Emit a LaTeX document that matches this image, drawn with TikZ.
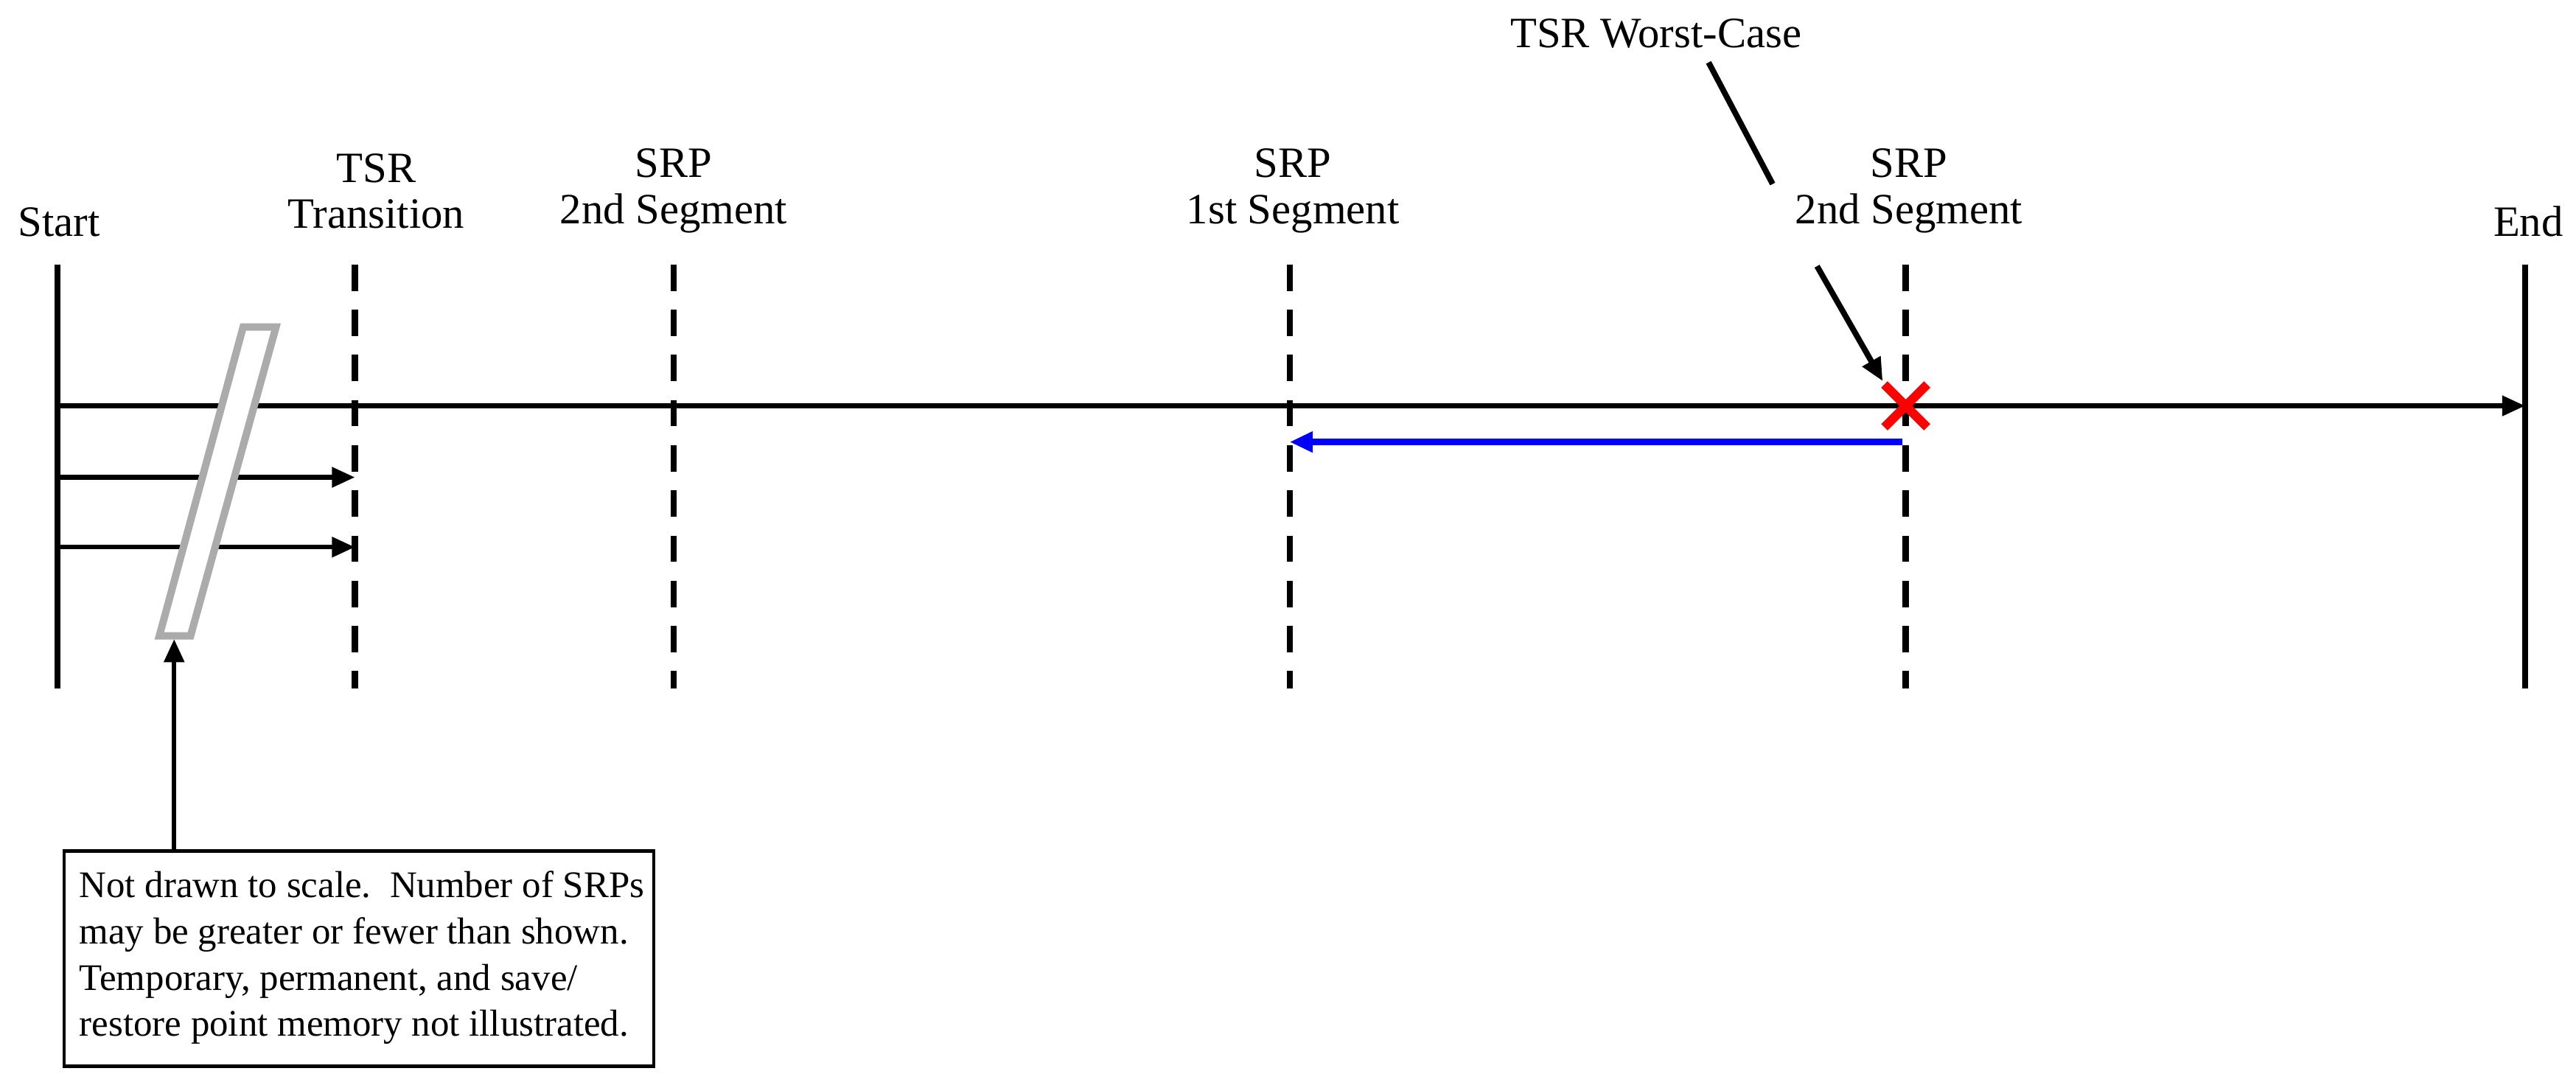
\documentclass[tikz,border=0pt]{standalone}
\usepackage{fontspec}
\setmainfont{Liberation Serif}
\usetikzlibrary{arrows.meta,calc}
\begin{document}
\begin{tikzpicture}[x=0.02cm,y=-0.02cm,
  lbl/.style={font=\fontsize{15}{16}\selectfont,align=center,inner sep=0pt},
  bar/.style={line width=0.075cm},
  dashbar/.style={line width=0.075cm,dash pattern=on 0.32cm off 0.23cm},
  ln/.style={line width=0.055cm},
  arr/.style={ln,-{Triangle[length=0.28cm,width=0.24cm]}}]
\useasboundingbox (0,0) rectangle (1568,662);
% bars
\coordinate (s1) at (35,161); \coordinate (s2) at (35,419);
\coordinate (e1) at (1537,161); \coordinate (e2) at (1537,419);
\draw[bar] (s1) -- (s2);
\draw[bar] (e1) -- (e2);
\foreach \n/\x in {t/216,a/410,b/785,c/1160}{
  \coordinate (\n1) at (\x,161); \coordinate (\n2) at (\x,419);
  \draw[dashbar] (\n1) -- (\n2);}
% labels
\node[lbl,anchor=base] (start) at (36,144) {Start};
\node[lbl,anchor=base] (end) at (1539,144) {End};
\node[lbl,anchor=base] (tl) at (229,139) {TSR\\Transition};
\node[lbl,anchor=base] (al) at (410,136) {SRP\\2nd Segment};
\node[lbl,anchor=base] (bl) at (787,136) {SRP\\1st Segment};
\node[lbl,anchor=base] (cl) at (1162,136) {SRP\\2nd Segment};
\node[lbl,anchor=base] (wc) at (1008,29) {TSR Worst-Case};
% main line
\coordinate (m0) at (35,247); \coordinate (m1) at (1537,247);
\draw[arr] (m0) -- (m1);
\coordinate (h0) at (35,290.5); \coordinate (h1) at (216,290.5);
\coordinate (g0) at (35,333); \coordinate (g1) at (216,333);
\draw[arr] (h0) -- (h1);
\draw[arr] (g0) -- (g1);
% slash
\draw[line width=0.09cm,draw=black!33,fill=white] (148,199) -- (168,199) -- (116,387) -- (97,387) -- cycle;
% blue
\coordinate (b0) at (1158,269); \coordinate (b1) at (785,269);
\draw[arr,draw=blue,fill=blue,line width=0.08cm] (b0) -- (b1);
% red X
\coordinate (x) at (1160,247);
\draw[red,line width=0.11cm] ($(x)+(-13,-13)$) -- ($(x)+(13,13)$) ($(x)+(-13,13)$) -- ($(x)+(13,-13)$);
% worst case pointer
\coordinate (w0) at (1040,38); \coordinate (w1) at (1079,112);
\coordinate (w2) at (1106,162); \coordinate (w3) at (1146,232);
\draw[ln,line width=0.07cm] (w0) -- (w1);
\draw[arr,line width=0.07cm] (w2) -- (w3);
% note
\node[draw,line width=0.04cm,anchor=north west,inner sep=0pt,minimum width=7.18cm,minimum height=2.62cm] (note) at (38,517) {};
\node[anchor=north west,inner sep=0pt,align=left,font=\fontsize{13}{16}\selectfont] (notet) at (48,530)
 {Not drawn to scale.\ \ Number of SRPs\\may be greater or fewer than shown.\\Temporary, permanent, and save/\\restore point memory not illustrated.};
\coordinate (n0) at (106,517); \coordinate (n1) at (106,389);
\draw[arr] (n0) -- (n1);
\end{tikzpicture}
\end{document}
